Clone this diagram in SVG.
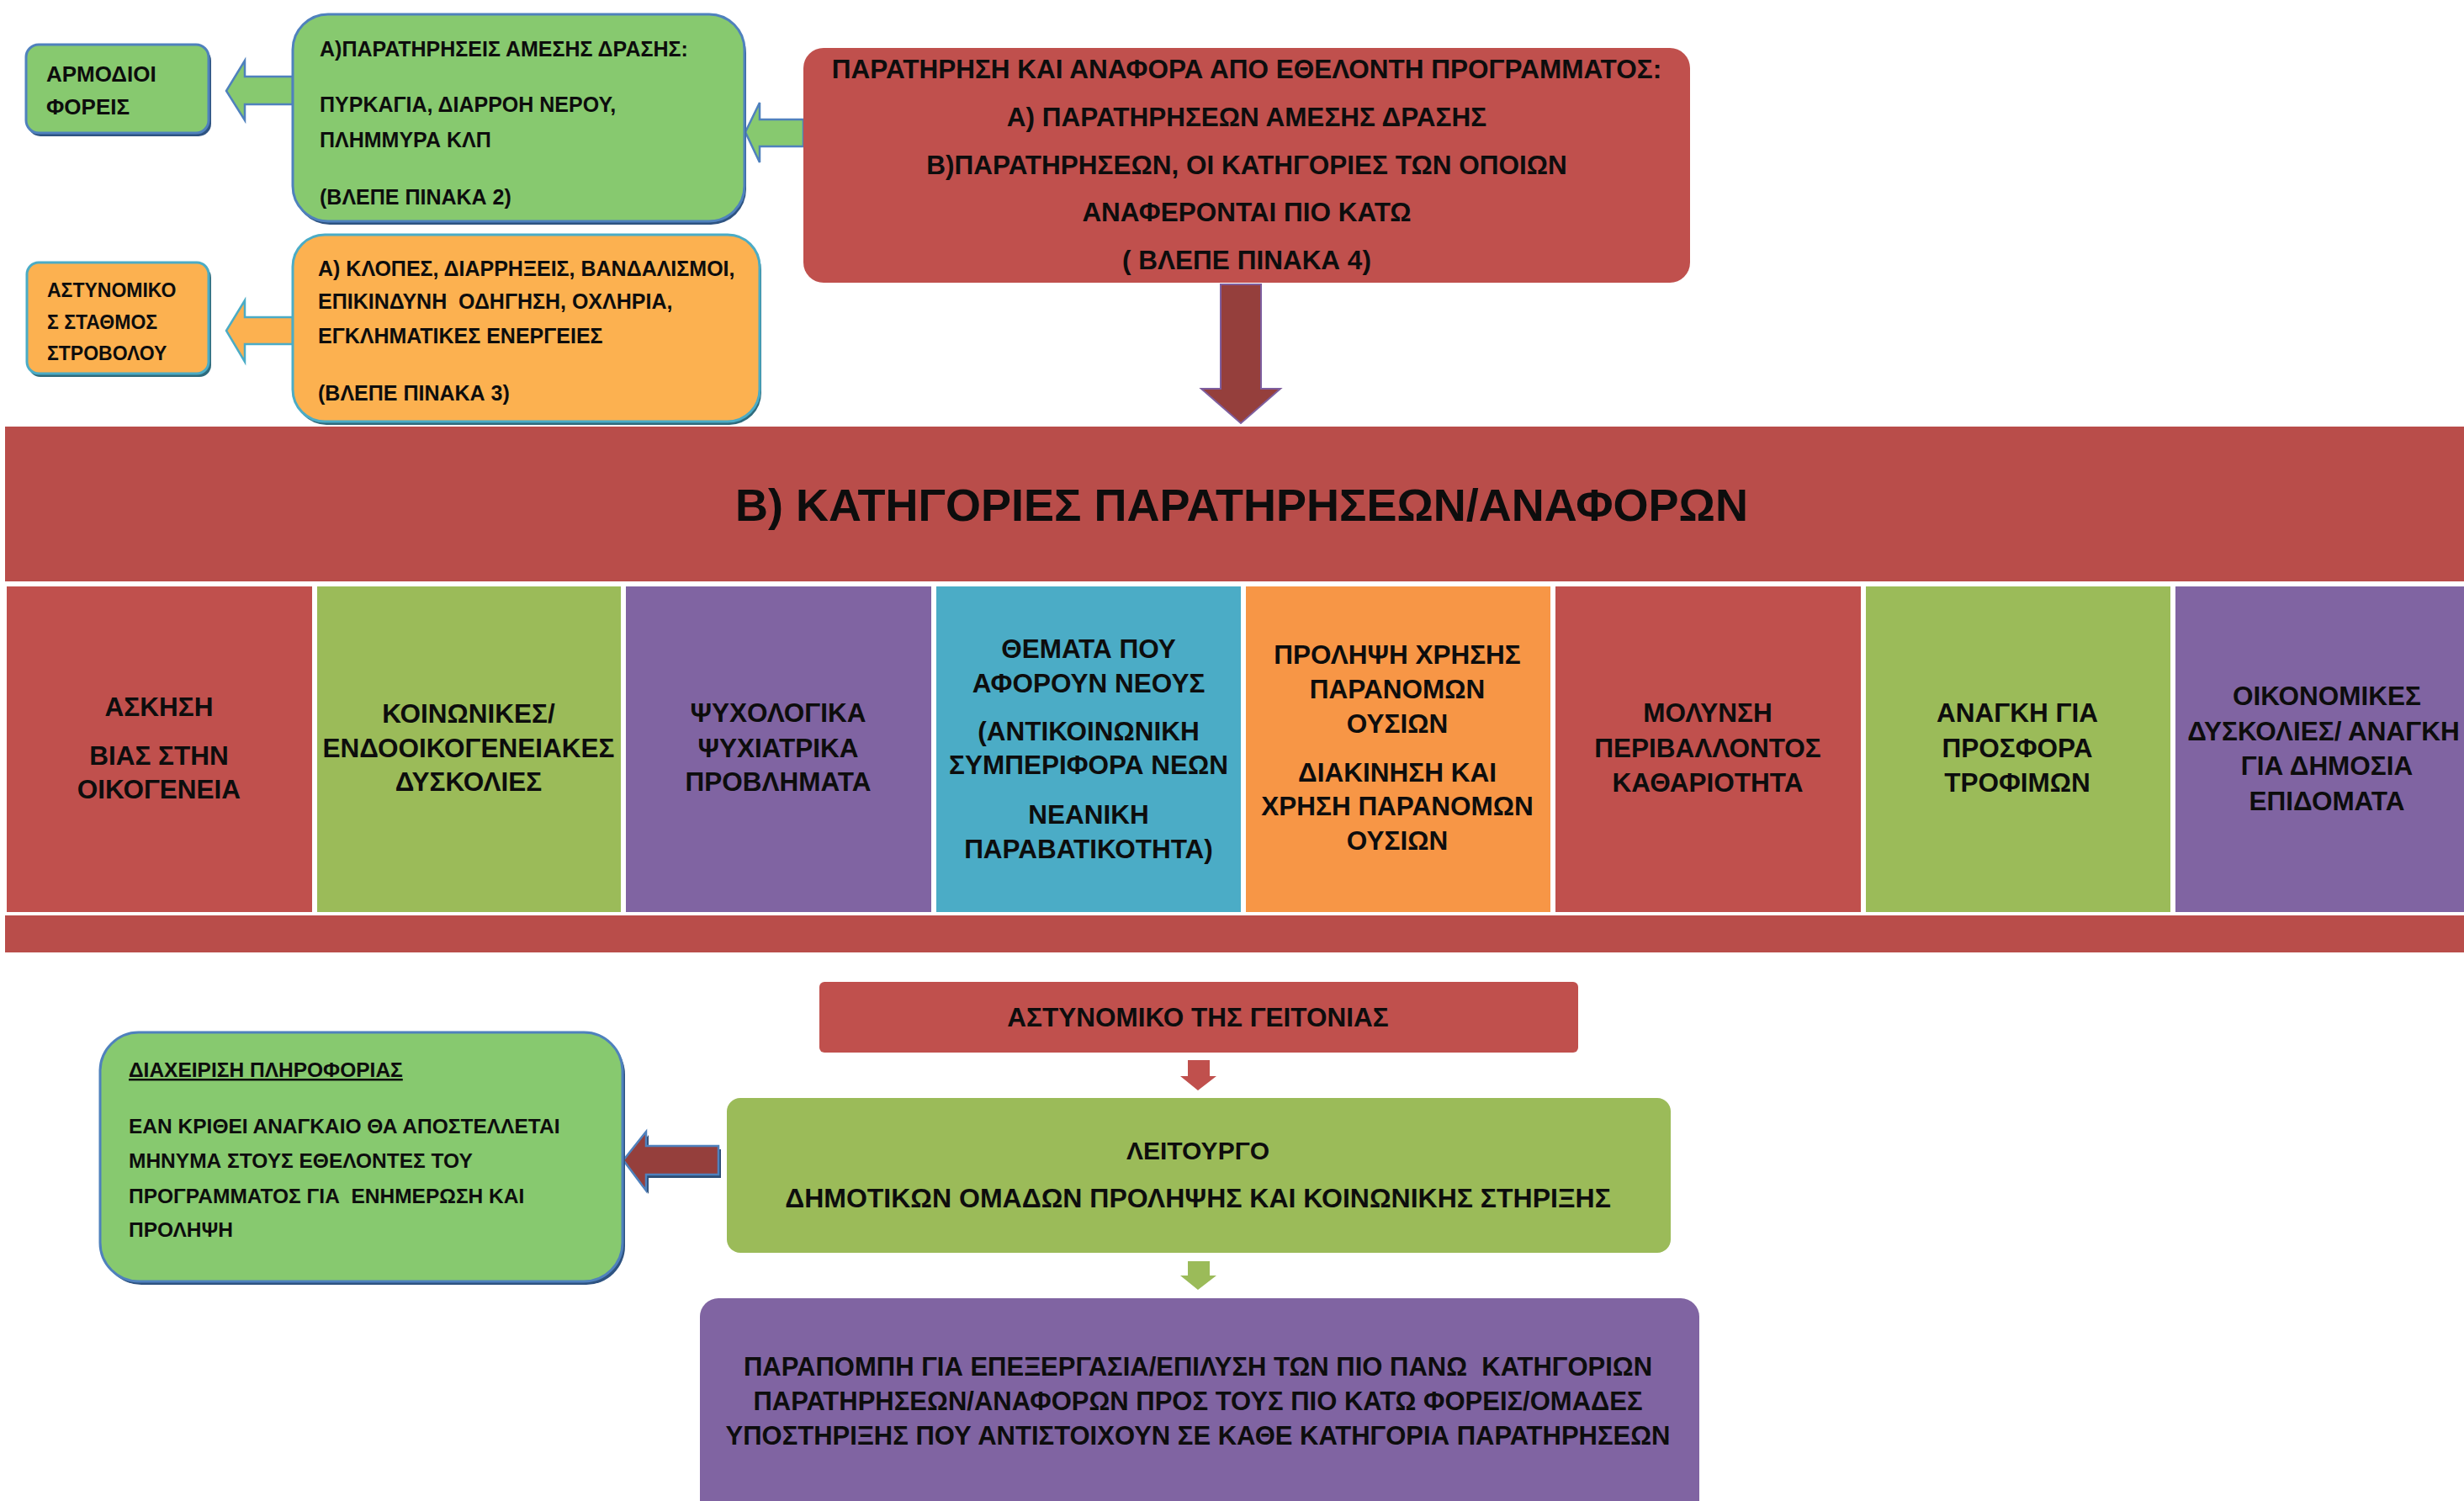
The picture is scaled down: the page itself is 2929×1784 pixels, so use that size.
<svg xmlns="http://www.w3.org/2000/svg" width="2929" height="1784" viewBox="0 0 2929 1784">
<style>
text{font-family:"Liberation Sans",Arial,sans-serif;font-weight:bold;fill:#0d0d0d}
.m{text-anchor:middle}
.gbox{fill:#87C96F;stroke:#4F81BD;stroke-width:3}
.obox{fill:#FCB150;stroke:#4BACC6;stroke-width:3}
.shb{fill:#2E5381}
.sho{fill:#2F6B7C}
.red{fill:#C0504D}
.band{fill:#B94D4A}
.grn{fill:#9BBB59}
.pur{fill:#8064A2}
.teal{fill:#4BACC6}
.org{fill:#F79646}
.f23{font-size:23px}
.f24{font-size:24.5px}
.f25{font-size:25px}
.f26{font-size:26px}
.f30{font-size:30px}
.f31{font-size:31px}
.f315{font-size:31.5px}
.f32{font-size:32px}
.cell{font-size:31.5px;text-anchor:middle}
</style>
<rect width="2929" height="1784" fill="#ffffff"/>

<g id="connectors">
  <polygon points="348,91 291,91 291,72 269,108 291,143 291,124 348,124" fill="#87C96F" stroke="#4F81BD" stroke-width="2.5"/>
  <polygon points="955,142 903,142 903,122 886,157 903,193 903,174 955,174" fill="#87C96F" stroke="#4F81BD" stroke-width="2.5"/>
  <polygon points="348,377 291,377 291,357 269,393 291,430 291,409 348,409" fill="#FCB150" stroke="#4BACC6" stroke-width="2.5"/>
  <polygon points="1451,338 1499,338 1499,462 1522,462 1475,503 1428,462 1451,462" fill="#953F3C" stroke="#7E5E9E" stroke-width="2"/>
  <polygon points="1412,1260 1438,1260 1438,1279 1446,1279 1424,1296 1403,1279 1412,1279" class="red"/>
  <polygon points="1412,1499 1438,1499 1438,1516 1446,1516 1424,1533 1403,1516 1412,1516" class="grn"/>
  <polygon points="857,1366 771,1366 771,1349 744,1382 771,1419 771,1400 857,1400" fill="#2C4D75"/>
  <polygon points="854,1362 768,1362 768,1345 741,1379 768,1415 768,1396 854,1396" fill="#953F3C" stroke="#4F81BD" stroke-width="2.5"/>
</g>

<g id="node-armodioi">
  <rect x="33" y="57" width="218" height="105" rx="15" class="shb"/>
  <rect x="31" y="53" width="217" height="105" rx="15" class="gbox"/>
  <text x="55" y="97" class="f26">ΑΡΜΟΔΙΟΙ</text>
  <text x="55" y="136" class="f26">ΦΟΡΕΙΣ</text>
</g>

<g id="node-amesi-drasi">
  <rect x="350" y="21" width="537" height="246" rx="42" class="shb"/>
  <rect x="348" y="17" width="537" height="246" rx="42" class="gbox"/>
  <text x="380" y="67" class="f25">Α)ΠΑΡΑΤΗΡΗΣΕΙΣ ΑΜΕΣΗΣ ΔΡΑΣΗΣ:</text>
  <text x="380" y="133" class="f25">ΠΥΡΚΑΓΙΑ, ΔΙΑΡΡΟΗ ΝΕΡΟΥ,</text>
  <text x="380" y="175" class="f25">ΠΛΗΜΜΥΡΑ ΚΛΠ</text>
  <text x="380" y="243" class="f25">(ΒΛΕΠΕ ΠΙΝΑΚΑ 2)</text>
</g>

<g id="node-astynomikos-stathmos">
  <rect x="34" y="316" width="217" height="132" rx="14" class="sho"/>
  <rect x="32" y="312" width="216" height="132" rx="14" class="obox"/>
  <text x="56" y="353" class="f23">ΑΣΤΥΝΟΜΙΚΟ</text>
  <text x="56" y="391" class="f23">Σ ΣΤΑΘΜΟΣ</text>
  <text x="56" y="428" class="f23">ΣΤΡΟΒΟΛΟΥ</text>
</g>

<g id="node-klopes">
  <rect x="350" y="283" width="555" height="222" rx="38" class="sho"/>
  <rect x="348" y="279" width="555" height="222" rx="38" class="obox"/>
  <text x="378" y="328" class="f25">Α) ΚΛΟΠΕΣ, ΔΙΑΡΡΗΞΕΙΣ, ΒΑΝΔΑΛΙΣΜΟΙ,</text>
  <text x="378" y="367" class="f25" xml:space="preserve">ΕΠΙΚΙΝΔΥΝΗ  ΟΔΗΓΗΣΗ, ΟΧΛΗΡΙΑ,</text>
  <text x="378" y="408" class="f25">ΕΓΚΛΗΜΑΤΙΚΕΣ ΕΝΕΡΓΕΙΕΣ</text>
  <text x="378" y="476" class="f25">(ΒΛΕΠΕ ΠΙΝΑΚΑ 3)</text>
</g>

<g id="node-ethelontis">
  <rect x="955" y="57" width="1054" height="279" rx="24" class="red"/>
  <text x="1482" y="93" class="f315 m">ΠΑΡΑΤΗΡΗΣΗ ΚΑΙ ΑΝΑΦΟΡΑ ΑΠΟ ΕΘΕΛΟΝΤΗ ΠΡΟΓΡΑΜΜΑΤΟΣ:</text>
  <text x="1482" y="150" class="f315 m">Α) ΠΑΡΑΤΗΡΗΣΕΩΝ ΑΜΕΣΗΣ ΔΡΑΣΗΣ</text>
  <text x="1482" y="207" class="f315 m">Β)ΠΑΡΑΤΗΡΗΣΕΩΝ, ΟΙ ΚΑΤΗΓΟΡΙΕΣ ΤΩΝ ΟΠΟΙΩΝ</text>
  <text x="1482" y="263" class="f315 m">ΑΝΑΦΕΡΟΝΤΑΙ ΠΙΟ ΚΑΤΩ</text>
  <text x="1482" y="320" class="f315 m">( ΒΛΕΠΕ ΠΙΝΑΚΑ 4)</text>
</g>

<g id="node-kategories">
  <rect x="6" y="507" width="2923" height="184" class="band"/>
  <text x="1476" y="619" font-size="54" class="m">Β) ΚΑΤΗΓΟΡΙΕΣ ΠΑΡΑΤΗΡΗΣΕΩΝ/ΑΝΑΦΟΡΩΝ</text>
  <rect x="6" y="1088" width="2923" height="44" class="band"/>
</g>

<g id="cell-1">
  <rect x="8" y="697" width="363" height="387" class="red"/>
  <text x="189" y="851" class="cell">ΑΣΚΗΣΗ</text>
  <text x="189" y="909" class="cell">ΒΙΑΣ ΣΤΗΝ</text>
  <text x="189" y="949" class="cell">ΟΙΚΟΓΕΝΕΙΑ</text>
</g>
<g id="cell-2">
  <rect x="377" y="697" width="361" height="387" class="grn"/>
  <text x="557" y="859" class="cell">ΚΟΙΝΩΝΙΚΕΣ/</text>
  <text x="557" y="900" class="cell">ΕΝΔΟΟΙΚΟΓΕΝΕΙΑΚΕΣ</text>
  <text x="557" y="940" class="cell">ΔΥΣΚΟΛΙΕΣ</text>
</g>
<g id="cell-3">
  <rect x="744" y="697" width="363" height="387" class="pur"/>
  <text x="925" y="858" class="cell">ΨΥΧΟΛΟΓΙΚΑ</text>
  <text x="925" y="900" class="cell">ΨΥΧΙΑΤΡΙΚΑ</text>
  <text x="925" y="940" class="cell">ΠΡΟΒΛΗΜΑΤΑ</text>
</g>
<g id="cell-4">
  <rect x="1113" y="697" width="362" height="387" class="teal"/>
  <text x="1294" y="782" class="cell">ΘΕΜΑΤΑ ΠΟΥ</text>
  <text x="1294" y="823" class="cell">ΑΦΟΡΟΥΝ ΝΕΟΥΣ</text>
  <text x="1294" y="880" class="cell">(ΑΝΤΙΚΟΙΝΩΝΙΚΗ</text>
  <text x="1294" y="920" class="cell">ΣΥΜΠΕΡΙΦΟΡΑ ΝΕΩΝ</text>
  <text x="1294" y="979" class="cell">ΝΕΑΝΙΚΗ</text>
  <text x="1294" y="1020" class="cell">ΠΑΡΑΒΑΤΙΚΟΤΗΤΑ)</text>
</g>
<g id="cell-5">
  <rect x="1481" y="697" width="362" height="387" class="org"/>
  <text x="1661" y="789" class="cell">ΠΡΟΛΗΨΗ ΧΡΗΣΗΣ</text>
  <text x="1661" y="830" class="cell">ΠΑΡΑΝΟΜΩΝ</text>
  <text x="1661" y="871" class="cell">ΟΥΣΙΩΝ</text>
  <text x="1661" y="929" class="cell">ΔΙΑΚΙΝΗΣΗ ΚΑΙ</text>
  <text x="1661" y="969" class="cell">ΧΡΗΣΗ ΠΑΡΑΝΟΜΩΝ</text>
  <text x="1661" y="1010" class="cell">ΟΥΣΙΩΝ</text>
</g>
<g id="cell-6">
  <rect x="1849" y="697" width="363" height="387" class="red"/>
  <text x="2030" y="858" class="cell">ΜΟΛΥΝΣΗ</text>
  <text x="2030" y="900" class="cell">ΠΕΡΙΒΑΛΛΟΝΤΟΣ</text>
  <text x="2030" y="941" class="cell">ΚΑΘΑΡΙΟΤΗΤΑ</text>
</g>
<g id="cell-7">
  <rect x="2218" y="697" width="362" height="387" class="grn"/>
  <text x="2398" y="858" class="cell">ΑΝΑΓΚΗ ΓΙΑ</text>
  <text x="2398" y="900" class="cell">ΠΡΟΣΦΟΡΑ</text>
  <text x="2398" y="941" class="cell">ΤΡΟΦΙΜΩΝ</text>
</g>
<g id="cell-8">
  <rect x="2586" y="697" width="362" height="387" class="pur"/>
  <text x="2766" y="838" class="cell">ΟΙΚΟΝΟΜΙΚΕΣ</text>
  <text x="2762" y="880" class="cell">ΔΥΣΚΟΛΙΕΣ/ ΑΝΑΓΚΗ</text>
  <text x="2766" y="921" class="cell">ΓΙΑ ΔΗΜΟΣΙΑ</text>
  <text x="2766" y="963" class="cell">ΕΠΙΔΟΜΑΤΑ</text>
</g>

<g id="node-astynomiko-geitonias">
  <rect x="974" y="1167" width="902" height="84" rx="6" class="red"/>
  <text x="1424" y="1220" class="f315 m">ΑΣΤΥΝΟΜΙΚΟ ΤΗΣ ΓΕΙΤΟΝΙΑΣ</text>
</g>

<g id="node-leitourgo">
  <rect x="864" y="1305" width="1122" height="184" rx="16" class="grn"/>
  <text x="1424" y="1378" class="f30 m">ΛΕΙΤΟΥΡΓΟ</text>
  <text x="1424" y="1435" class="f32 m">ΔΗΜΟΤΙΚΩΝ ΟΜΑΔΩΝ ΠΡΟΛΗΨΗΣ ΚΑΙ ΚΟΙΝΩΝΙΚΗΣ ΣΤΗΡΙΞΗΣ</text>
</g>

<g id="node-parapompi">
  <rect x="832" y="1543" width="1188" height="270" rx="22" class="pur"/>
  <text x="1424" y="1635" class="f31 m" xml:space="preserve">ΠΑΡΑΠΟΜΠΗ ΓΙΑ ΕΠΕΞΕΡΓΑΣΙΑ/ΕΠΙΛΥΣΗ ΤΩΝ ΠΙΟ ΠΑΝΩ  ΚΑΤΗΓΟΡΙΩΝ</text>
  <text x="1424" y="1676" class="f31 m">ΠΑΡΑΤΗΡΗΣΕΩΝ/ΑΝΑΦΟΡΩΝ ΠΡΟΣ ΤΟΥΣ ΠΙΟ ΚΑΤΩ ΦΟΡΕΙΣ/ΟΜΑΔΕΣ</text>
  <text x="1424" y="1717" class="f31 m">ΥΠΟΣΤΗΡΙΞΗΣ ΠΟΥ ΑΝΤΙΣΤΟΙΧΟΥΝ ΣΕ ΚΑΘΕ ΚΑΤΗΓΟΡΙΑ ΠΑΡΑΤΗΡΗΣΕΩΝ</text>
</g>

<g id="node-diaxeirisi">
  <rect x="122" y="1231" width="621" height="296" rx="46" class="shb"/>
  <rect x="119" y="1227" width="621" height="296" rx="46" class="gbox"/>
  <text x="153" y="1280" class="f24" text-decoration="underline">ΔΙΑΧΕΙΡΙΣΗ ΠΛΗΡΟΦΟΡΙΑΣ</text>
  <text x="153" y="1347" class="f24">ΕΑΝ ΚΡΙΘΕΙ ΑΝΑΓΚΑΙΟ ΘΑ ΑΠΟΣΤΕΛΛΕΤΑΙ</text>
  <text x="153" y="1388" class="f24">ΜΗΝΥΜΑ ΣΤΟΥΣ ΕΘΕΛΟΝΤΕΣ ΤΟΥ</text>
  <text x="153" y="1430" class="f24" xml:space="preserve">ΠΡΟΓΡΑΜΜΑΤΟΣ ΓΙΑ  ΕΝΗΜΕΡΩΣΗ ΚΑΙ</text>
  <text x="153" y="1470" class="f24">ΠΡΟΛΗΨΗ</text>
</g>
</svg>
